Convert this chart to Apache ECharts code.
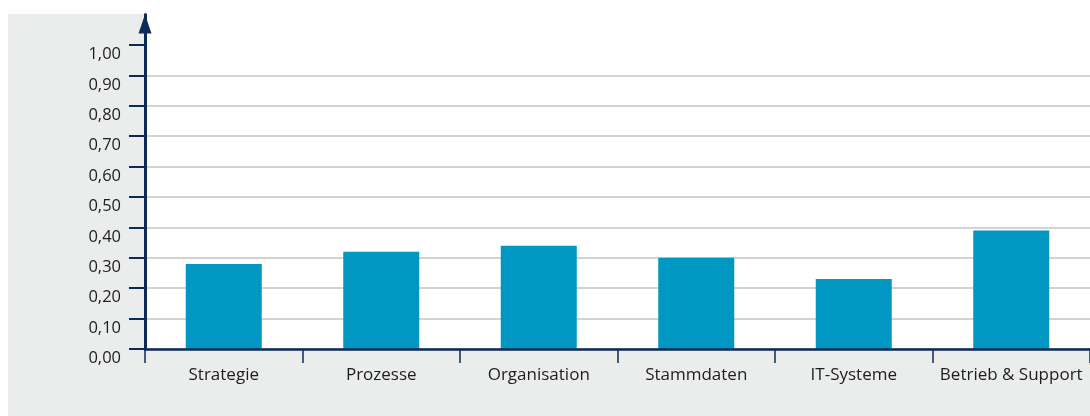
<!DOCTYPE html>
<html>
<head>
<meta charset="utf-8">
<script src="https://cdn.jsdelivr.net/npm/echarts@6/dist/echarts.min.js"></script>
<style>
  html, body { margin: 0; padding: 0; background: #ffffff; }
  #chart { width: 1090px; height: 416px; }
</style>
</head>
<body>
<div id="chart"></div>
<script>
// Kategorien und Werte
const categories = ['Strategie', 'Prozesse', 'Organisation', 'Stammdaten', 'IT-Systeme', 'Betrieb & Support'];
const values = [0.28, 0.32, 0.34, 0.30, 0.23, 0.39];
const tickValues = [0, 0.1, 0.2, 0.3, 0.4, 0.5, 0.6, 0.7, 0.8, 0.9, 1.0];

const navy = '#0c2a57';
const textColor = '#1d1d1b';
const font = '"Open Sans", sans-serif';

const chart = echarts.init(document.getElementById('chart'), null, { renderer: 'canvas' });

chart.setOption({
  animation: false,
  backgroundColor: '#ffffff',
  graphic: [
    // grauer Rahmen links und unten, weiße Zeichenfläche
    { type: 'rect', z: -10, silent: true, shape: { x: 8, y: 14, width: 1082, height: 402 }, style: { fill: '#ebecec' } },
    { type: 'rect', z: -9, silent: true, shape: { x: 146, y: 0, width: 944, height: 349 }, style: { fill: '#ffffff' } }
  ],
  grid: { left: 145, right: -7.5, top: 14.6, bottom: 67, containLabel: false },
  xAxis: {
    type: 'category',
    data: categories,
    boundaryGap: true,
    axisLine: { show: true, lineStyle: { color: navy, width: 2.5 } },
    axisTick: { show: true, interval: 0, length: 14, lineStyle: { color: navy, width: 1.5 } },
    axisLabel: { interval: 0, color: textColor, fontFamily: font, fontSize: 17, margin: 18 },
    z: 5
  },
  yAxis: {
    type: 'value',
    min: 0,
    max: 1.1,
    interval: 0.1,
    axisLine: {
      show: true,
      symbol: ['none', 'triangle'],
      symbolSize: [13, 19],
      symbolOffset: [0, -9.5],
      lineStyle: { color: navy, width: 3 }
    },
    axisTick: { show: true, length: 16, customValues: tickValues, lineStyle: { color: navy, width: 2 } },
    axisLabel: {
      color: textColor, fontFamily: font, fontSize: 16.5, margin: 24,
      verticalAlign: 'top',
      padding: [1, 0, 0, 0],
      customValues: tickValues,
      formatter: v => v.toFixed(2).replace('.', ',')
    },
    splitLine: { show: true, showMaxLine: false, lineStyle: { color: '#c4c4c4', width: 1.5 } }
  },
  series: [{
    type: 'bar',
    data: values,
    barWidth: 76,
    itemStyle: { color: '#0097c3' },
    z: 2
  }]
});
</script>
</body>
</html>
